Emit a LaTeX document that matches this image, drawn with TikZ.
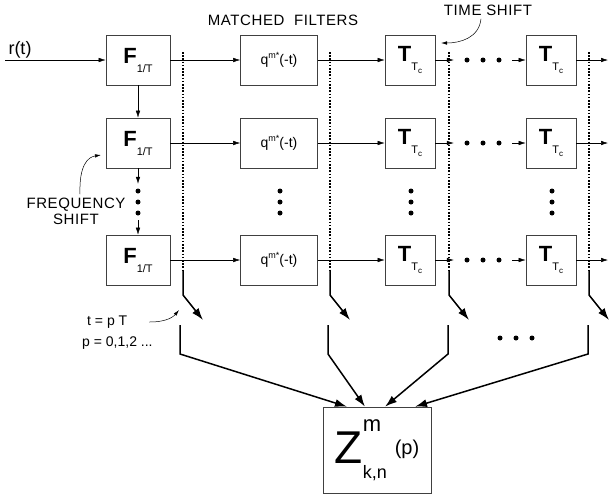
\documentclass[tikz,border=0pt]{standalone}
\usepackage{fontspec}
\setmainfont{Liberation Sans}
\usetikzlibrary{arrows.meta}
\newcommand{\fsz}[1]{\fontsize{#1}{#1}\selectfont}
\newcommand{\Fop}{{\fsz{22}\bfseries F}\raisebox{-9pt}{\fsz{11}1/T}}
\newcommand{\Top}{{\fsz{22}\bfseries T}\raisebox{-9pt}{\fsz{11}T\raisebox{-3pt}{\fsz{8}c}}}
\newcommand{\Qop}{{\fsz{14}q\raisebox{6pt}{\fsz{9}m*}(-t)}}

\begin{document}
\begin{tikzpicture}[x=1pt,y=-1pt,
  blk/.style={draw=black!75,line width=0.6pt,inner sep=0pt,minimum height=50pt},
  fbox/.style={blk,minimum width=64pt},
  qbox/.style={blk,minimum width=77pt},
  tbox/.style={blk,minimum width=50pt},
  zbox/.style={draw=black!75,line width=0.6pt,inner sep=0pt,minimum width=108pt,minimum height=86pt},
  hold/.style={inner sep=0pt,minimum width=58pt,minimum height=6pt},
  sig/.style={line width=0.5pt,-{Latex[length=7pt,width=4.5pt]}},
  note/.style={line width=0.5pt,-{Latex[length=6pt,width=3.5pt]}},
  tap/.style={line width=1.6pt,dash pattern=on 1.6pt off 1.6pt},
  thk/.style={line width=1.5pt,-{Latex[length=12pt,width=8pt]}},
  caps/.style={font=\fontsize{15}{16}\selectfont\addfontfeature{LetterSpace=4}}]
  \useasboundingbox (0,0) rectangle (610,496);
  \node (rt) at (20,50) {\fsz{18}r(t)};
  \coordinate (in) at (5,60);
  \node[caps] (mf) at (283,20) {MATCHED\ \ FILTERS};
  \node[caps] (ts) at (488,10) {TIME SHIFT};
  \foreach \r/\y in {1/60,2/143,3/260} {
    \node[fbox] (F\r) at (138,\y) {\Fop};
    \node[qbox] (Q\r) at (279,\y) {\Qop};
    \node[tbox] (T\r) at (410,\y) {\Top};
    \node[tbox] (U\r) at (551,\y) {\Top};
    \node[hold] (H\r) at (483,\y) {};
    \coordinate (E\r) at (608,\y);
    \foreach \dx in {-16,0,16} \fill ([xshift=\dx pt]H\r.center) circle (2.5pt);
    \draw[sig] (F\r) -- (Q\r);
    \draw[sig] (Q\r) -- (T\r);
    \draw[sig] (T\r) -- (H\r);
    \draw[sig] (H\r) -- (U\r);
    \draw[sig] (U\r) -- (E\r);
  }
  \draw[sig] (in) -- (F1);
  \draw[sig] (F1) -- (F2);
  \node[inner sep=0pt,minimum width=6pt,minimum height=36pt] (V) at (138,202) {};
  \draw[sig] (F2) -- (V);
  \draw[sig] (V) -- (F3);
  \foreach \x in {138,280,411,552}
    \foreach \yy in {191,202,213} \fill (\x,\yy) circle (2.5pt);
  \node[caps,align=center] (fs) at (76,211) {FREQUENCY\\SHIFT};
  \coordinate (fsend) at (101,155);
  \draw[note] ([xshift=4pt]fs.north) .. controls (79,165) and (88,157) .. (fsend);
  \coordinate (tsend) at (441,43);
  \draw[note] ([xshift=-7pt]ts.south) .. controls (479,38) and (460,43) .. (tsend);
  \node[anchor=west,inner sep=0pt] (tp) at (87,322) {\fsz{14}t = p T};
  \node[anchor=west,inner sep=0pt] (pp) at (82,343) {\fsz{14}p = 0,1,2 ...};
  \coordinate (tpend) at (179,310);
  \draw[note] ([xshift=22pt]tp.east) .. controls (168,322) and (174,316) .. (tpend);
  \foreach \x/\n in {183/1,330/2,449/3,589/4} {
    \coordinate (tA\n) at (\x,52);
    \coordinate (tB\n) at (\x,270);
    \coordinate (tC\n) at (\x,295);
    \coordinate (tD\n) at (\x+20,320);
    \draw[tap] (tA\n) -- (tB\n);
    \draw[thk] (tB\n) -- (tC\n) -- (tD\n);
  }
  \node[zbox] (Z) at (377,450) {\fsz{46}Z\rlap{\raisebox{32pt}{\fsz{22}m}}\raisebox{-15pt}{\fsz{18}k,n}\hspace{8pt}\raisebox{9pt}{\fsz{20}(p)}};
  \foreach \x/\dx/\n in {180/-30/1,328/-12/2,448/8/3,588/38/4} {
    \coordinate (bA\n) at (\x,325);
    \coordinate (bB\n) at (\x,354);
    \draw[thk] (bA\n) -- (bB\n) -- ([xshift=\dx pt]Z.north);
  }
  \foreach \x in {500,516,532} \fill (\x,338) circle (2.5pt);
\end{tikzpicture}
\end{document}
